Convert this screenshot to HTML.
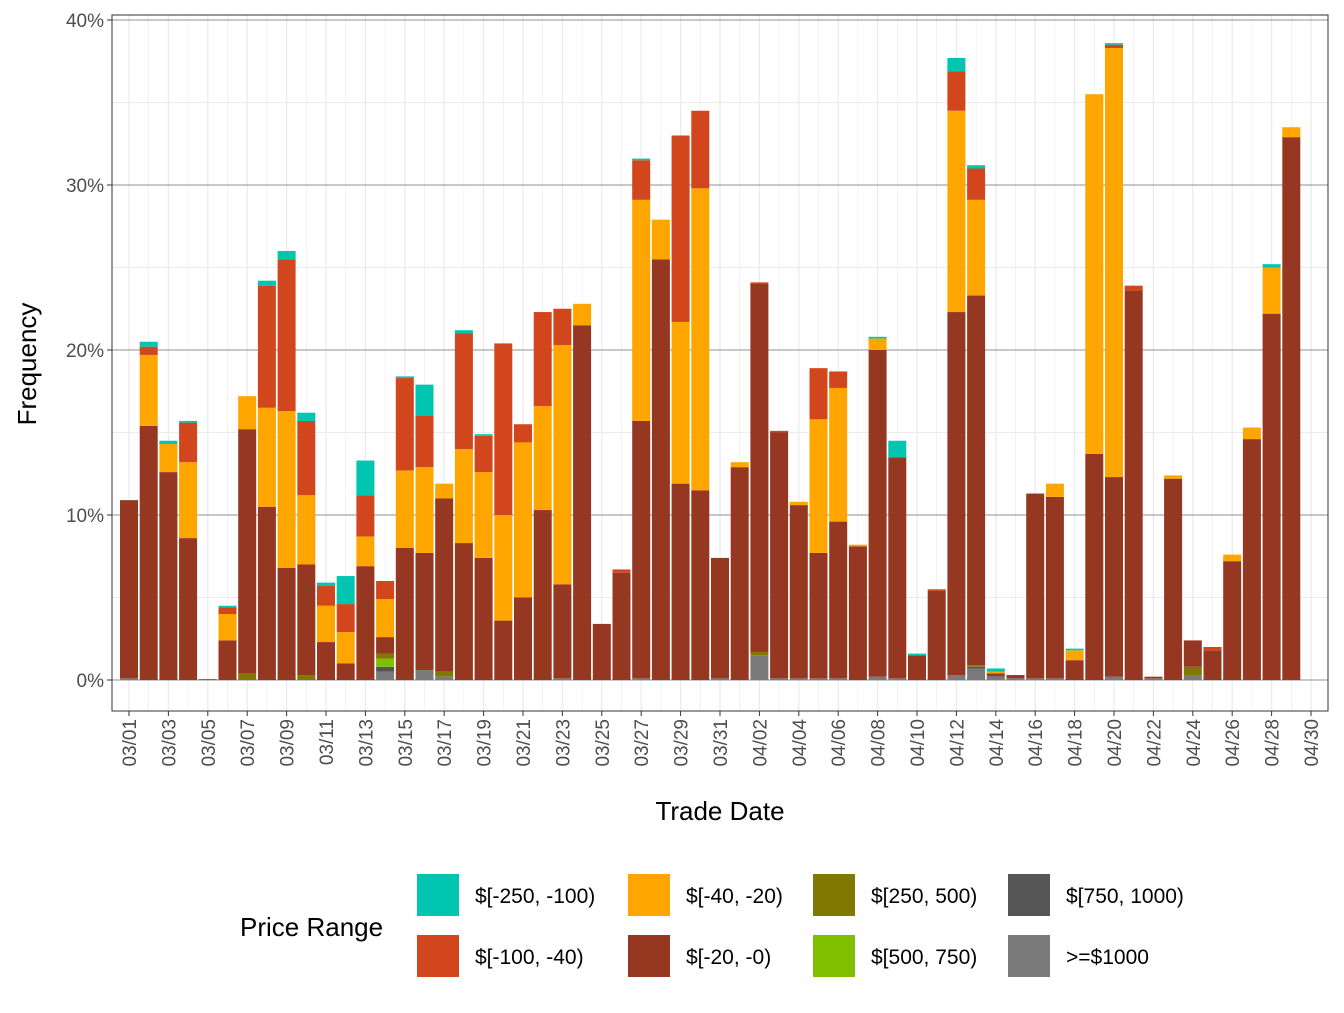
<!DOCTYPE html>
<html><head><meta charset="utf-8"><style>
body{margin:0;background:#fff;font-family:"Liberation Sans",sans-serif}
</style></head><body>
<svg id="chart" width="1344" height="1008" xmlns="http://www.w3.org/2000/svg" font-family="Liberation Sans, sans-serif">
<g id="grid"></g><g id="bars"></g><g id="axes"></g>
<text x="720" y="820" font-size="26" text-anchor="middle" fill="#000">Trade Date</text>
<text transform="translate(36,364) rotate(-90)" font-size="26" text-anchor="middle" fill="#000">Frequency</text>
<g id="legend"></g>
</svg>
<script>
const dates=[];
for(let d=1;d<=31;d++)dates.push('03/'+String(d).padStart(2,'0'));
for(let d=1;d<=29;d++)dates.push('04/'+String(d).padStart(2,'0'));
const seriesNames=["$[-250, -100)","$[-100, -40)","$[-40, -20)","$[-20, -0)","$[250, 500)","$[500, 750)","$[750, 1000)",">=$1000"];
const colors=["#00c5b0","#d2461e","#ffa500","#963722","#807800","#80bf00","#555555","#7a7a7a"];
// segment values (%) per date, one array per series
const sGE1000=[0.1,0,0,0,0,0,0,0,0,0,0,0,0,0.5,0,0.6,0.2,0,0,0,0,0,0.1,0,0,0,0.1,0,0,0,0.1,0,1.5,0.1,0.1,0.1,0.1,0,0.2,0.1,0,0,0.3,0.7,0.2,0.1,0.1,0.1,0,0,0.2,0,0.1,0,0.3,0,0,0,0];
const s750=[0,0,0,0,0,0,0,0,0,0,0,0,0,0.3,0,0,0,0,0,0,0,0,0,0,0,0,0,0,0,0,0,0,0,0,0,0,0,0,0,0,0,0,0,0.1,0.1,0,0,0,0,0,0,0,0,0,0,0,0,0,0];
const s500=[0,0,0,0,0,0,0,0,0,0,0,0,0,0.5,0,0,0,0,0,0,0,0,0,0,0,0,0,0,0,0,0,0,0,0,0,0,0,0,0,0,0,0,0,0,0,0,0,0,0,0,0,0,0,0,0,0,0,0,0];
const s250=[0,0,0,0,0,0,0.4,0,0,0.3,0,0,0,0.3,0,0,0.3,0,0,0,0,0,0,0,0,0,0,0,0,0,0,0,0.2,0,0,0,0,0,0,0,0,0,0,0.1,0,0,0,0,0,0,0,0,0,0,0.5,0,0,0,0];
const sN20=[10.8,15.4,12.6,8.6,0.05,2.4,14.8,10.5,6.8,6.7,2.3,1.0,6.9,1.0,8.0,7.1,10.5,8.3,7.4,3.6,5.0,10.3,5.7,21.5,3.4,6.5,15.6,25.5,11.9,11.5,7.3,12.9,22.3,14.9,10.5,7.6,9.5,8.1,19.8,13.4,1.5,5.4,22.0,22.4,0.1,0.2,11.2,11.0,1.2,13.7,12.1,23.6,0.1,12.2,1.6,1.8,7.2,14.6,22.2,32.9];
const sN40=[0,4.3,1.7,4.6,0,1.6,2.0,6.0,9.5,4.2,2.2,1.9,1.8,2.3,4.7,5.2,0.9,5.7,5.2,6.4,9.4,6.3,14.5,1.3,0,0,13.4,2.4,9.8,18.3,0,0.3,0,0,0.2,8.1,8.1,0.1,0.7,0,0,0,12.2,5.8,0.1,0,0,0.8,0.6,21.8,26.0,0,0,0.2,0,0,0.4,0.7,2.8,0.6];
const sN100=[0,0.5,0,2.4,0,0.4,0,7.4,9.2,4.5,1.2,1.7,2.5,1.1,5.6,3.1,0,7.0,2.2,10.4,1.1,5.7,2.2,0,0,0.2,2.4,0,11.3,4.7,0,0,0.1,0.1,0,3.1,1.0,0,0,0,0,0.1,2.4,1.9,0,0,0,0,0,0,0.2,0.3,0,0,0,0.2,0,0,0,0];
const sN250=[0,0.3,0.2,0.1,0,0.1,0,0.3,0.5,0.5,0.2,1.7,2.1,0,0.1,1.9,0,0.2,0.1,0,0,0,0,0,0,0,0.1,0,0,0,0,0,0,0,0,0,0,0,0.1,1.0,0.1,0,0.8,0.2,0.2,0,0,0,0.1,0,0.1,0,0,0,0,0,0,0,0.2,0];
const yTicks=[0,10,20,30,40];
const yTickLabels=["0%","10%","20%","30%","40%"];
const stackOrder=[sGE1000,s750,s500,s250,sN20,sN40,sN100,sN250];
const stackColorIdx=[7,6,5,4,3,2,1,0];
const ns="http://www.w3.org/2000/svg";
const L=112,R=1328,T=15,B=711;
const x0=129,dx=19.7;
function xScale(i){return x0+i*dx;}
function yScale(v){return 680-v*16.5;}
function mk(tag,attrs,parent){const e=document.createElementNS(ns,tag);for(const k in attrs)e.setAttribute(k,attrs[k]);parent.appendChild(e);return e;}
const grid=document.getElementById('grid'),bars=document.getElementById('bars'),axes=document.getElementById('axes'),leg=document.getElementById('legend');
mk('rect',{x:L,y:T,width:R-L,height:B-T,fill:'#fff'},grid);
for(let v=5;v<45;v+=10){const y=yScale(v);if(y>T)mk('line',{x1:L,x2:R,y1:y,y2:y,stroke:'#ebebeb','stroke-width':1},grid);}
for(let i=-0.5;i<61;i+=1){}
for(let i=0;i<=60;i++){const x=xScale(i);mk('line',{x1:x,x2:x,y1:T,y2:B,stroke:'#ebebeb','stroke-width':i%2==0?1.3:0.6},grid);}
yTicks.forEach((v,k)=>{const y=yScale(v);
 const gl=mk('line',{x1:L,x2:R,y1:y,y2:y,stroke:'#6e6e6e','stroke-width':0.8},grid);
 
 mk('line',{x1:L-5,x2:L,y1:y,y2:y,stroke:'#333','stroke-width':1},axes);
 const t=mk('text',{x:L-8,y:y+7,'font-size':19,'text-anchor':'end',fill:'#4d4d4d'},axes);t.textContent=yTickLabels[k];
 });
dates.forEach((d,i)=>{let acc=0;const x=xScale(i);
 stackOrder.forEach((arr,si)=>{const v=arr[i];if(v>0){
  const r=mk('rect',{x:x-9,y:yScale(acc+v),width:18,height:v*16.5,fill:colors[stackColorIdx[si]]},bars);
  acc+=v;}});});
for(let i=0;i<=60;i+=2){const x=xScale(i);const lab=i<60?dates[i]:'04/30';
 mk('line',{x1:x,x2:x,y1:B,y2:B+5,stroke:'#333','stroke-width':1},axes);
 const t=mk('text',{transform:`translate(${x+7},${B+8}) rotate(-90)`,'font-size':19,'text-anchor':'end',fill:'#4d4d4d'},axes);t.textContent=lab;
 }
mk('rect',{x:L,y:T,width:R-L,height:B-T,fill:'none',stroke:'#333','stroke-width':1},axes);
const lt=mk('text',{x:240,y:936,'font-size':26,fill:'#000'},leg);lt.textContent='Price Range';

const colX=[417,628,813,1008],rowY=[874,935];
seriesNames.forEach((n,k)=>{const cx=colX[Math.floor(k/2)],cy=rowY[k%2];
 const g=mk('g',{},leg);
 mk('rect',{x:cx,y:cy,width:42,height:42,fill:colors[k]},g);
 const t=mk('text',{x:cx+58,y:cy+29,'font-size':21,fill:'#000'},g);t.textContent=n;});
</script>
</body></html>
